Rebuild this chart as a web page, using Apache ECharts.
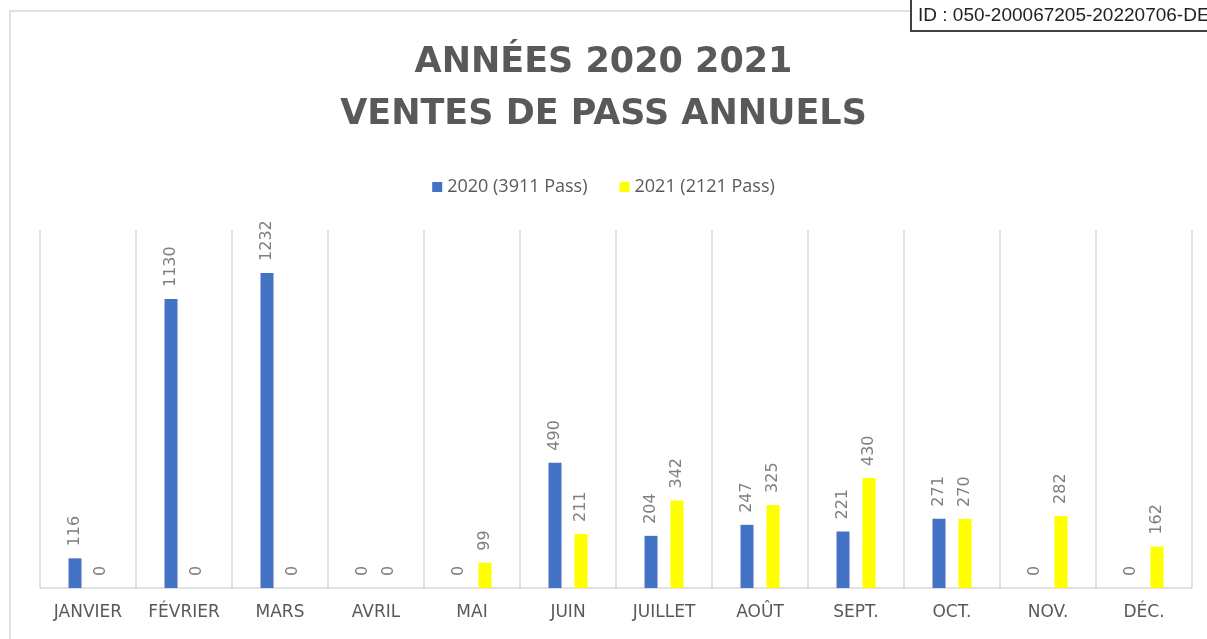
<!DOCTYPE html>
<html>
<head>
<meta charset="utf-8">
<title>Ventes de pass annuels</title>
<script src="https://cdn.jsdelivr.net/npm/echarts@6/dist/echarts.min.js"></script>
<style>
  html, body { margin: 0; padding: 0; background: #fff; }
  #chartBox { width: 1207px; height: 639px; }
</style>
</head>
<body>
<div id="chartBox"></div>
<script>
  // données
  var mois = ['JANVIER', 'FÉVRIER', 'MARS', 'AVRIL', 'MAI', 'JUIN', 'JUILLET', 'AOÛT', 'SEPT.', 'OCT.', 'NOV.', 'DÉC.'];
  var nomsSeries = ['2020 (3911 Pass)', '2021 (2121 Pass)'];
  var ventes2020 = [116, 1130, 1232, 0, 0, 490, 204, 247, 221, 271, 0, 0];
  var ventes2021 = [0, 0, 0, 0, 99, 211, 342, 325, 430, 270, 282, 162];

  var chart = echarts.init(document.getElementById('chartBox'));

  // étiquette verticale au-dessus des barres
  var etiquette = {
    show: true,
    position: 'top',
    rotate: 90,
    align: 'left',
    verticalAlign: 'middle',
    distance: 12,
    color: '#7f7f7f',
    fontSize: 16,
    fontFamily: 'DejaVu Sans'
  };

  var option = {
    animation: false,
    title: {
      text: 'ANNÉES 2020 2021\nVENTES DE PASS ANNUELS',
      left: 'center',
      top: 32,
      textStyle: {
        color: '#595959',
        fontSize: 35,
        fontWeight: 'bold',
        fontFamily: 'DejaVu Sans',
        lineHeight: 52
      }
    },
    legend: {
      data: nomsSeries,
      top: 173,
      left: 'center',
      itemWidth: 10,
      itemHeight: 10,
      itemGap: 32,
      icon: 'rect',
      textStyle: { color: '#595959', fontSize: 18, fontFamily: 'Open Sans' }
    },
    grid: { left: 40, right: 15, top: 230, bottom: 51 },
    xAxis: {
      type: 'category',
      data: mois,
      axisLine: { lineStyle: { color: '#d9d9d9', width: 1.5 } },
      axisTick: { show: false },
      splitLine: { show: true, lineStyle: { color: '#d9d9d9', width: 1.5 } },
      axisLabel: { color: '#595959', fontSize: 17, fontFamily: 'DejaVu Sans', margin: 16, interval: 0 }
    },
    yAxis: {
      type: 'value',
      min: 0,
      max: 1400,
      show: false,
      splitLine: { show: false }
    },
    series: [
      {
        name: nomsSeries[0],
        type: 'bar',
        data: ventes2020,
        barWidth: 13,
        barGap: '100%',
        itemStyle: { color: '#4472C4' },
        label: etiquette
      },
      {
        name: nomsSeries[1],
        type: 'bar',
        data: ventes2021,
        barWidth: 13,
        itemStyle: { color: '#FFFF00' },
        label: etiquette
      }
    ],
    graphic: [
      {
        type: 'rect',
        shape: { x: 10, y: 11, width: 1400, height: 800 },
        style: { fill: 'none', stroke: '#e0e0e0', lineWidth: 2 },
        silent: true
      },
      {
        type: 'rect',
        shape: { x: 911, y: -5, width: 400, height: 36 },
        style: { fill: '#fff', stroke: '#404040', lineWidth: 2 },
        silent: true
      },
      {
        type: 'text',
        x: 918,
        y: 16,
        style: {
          text: 'ID : 050-200067205-20220706-DE',
          fill: '#222',
          font: '19px "Liberation Sans"',
          verticalAlign: 'middle'
        },
        silent: true
      }
    ]
  };

  chart.setOption(option);
</script>
</body>
</html>
